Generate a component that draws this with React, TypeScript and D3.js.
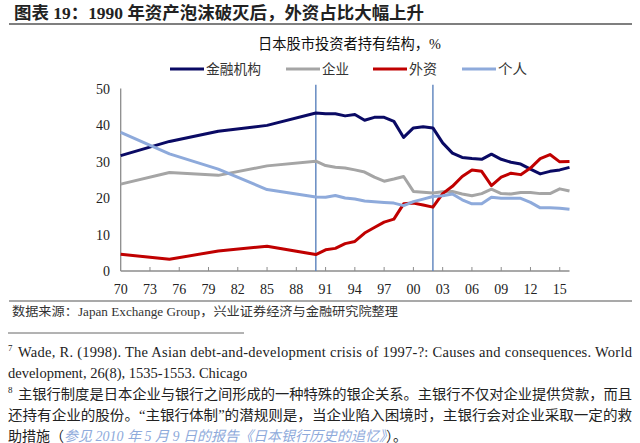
import React from "react";
import * as d3 from "d3";

const years = [1970, 1975, 1980, 1985, 1990, 1991, 1992, 1993, 1994, 1995, 1996, 1997, 1998, 1999, 2000, 2001, 2002, 2003, 2004, 2005, 2006, 2007, 2008, 2009, 2010, 2011, 2012, 2013, 2014, 2015, 2016];
const financial = [31.6, 35.5, 38.3, 39.9, 43.3, 43.1, 43.1, 42.5, 42.9, 41.3, 42.1, 42.1, 41.0, 36.6, 39.2, 39.5, 39.2, 35.1, 32.3, 31.1, 30.8, 30.6, 32.0, 30.6, 29.8, 29.3, 27.9, 26.6, 27.3, 27.7, 28.4];
const corporate = [23.8, 27.0, 26.2, 28.8, 30.1, 28.9, 28.4, 28.2, 27.7, 27.1, 25.7, 24.6, 25.2, 25.9, 21.8, 21.6, 21.4, 21.7, 21.8, 21.1, 20.6, 21.2, 22.4, 21.2, 21.1, 21.5, 21.5, 21.2, 21.2, 22.5, 21.9];
const foreign = [4.6, 3.2, 5.5, 6.8, 4.5, 5.8, 6.2, 7.5, 8.1, 10.4, 11.9, 13.4, 14.2, 18.4, 18.6, 18.1, 17.5, 21.2, 23.2, 25.9, 27.7, 27.3, 23.4, 25.7, 26.8, 26.4, 28.2, 30.8, 31.9, 29.9, 30.0];
const individual = [38.0, 32.1, 27.9, 22.3, 20.3, 20.2, 20.7, 20.0, 19.7, 19.2, 19.0, 18.8, 18.6, 17.9, 19.0, 19.7, 20.4, 20.6, 21.1, 19.5, 18.4, 18.4, 20.2, 19.9, 19.9, 19.9, 18.8, 17.3, 17.3, 17.2, 16.9];

const seriesNames = ["金融机构", "企业", "外资", "个人"];
const seriesColors = ["#0a0a64", "#a5a5a5", "#c00000", "#8eaadb"];
const seriesValues = [financial, corporate, foreign, individual];

const xTickYears = [1970, 1973, 1976, 1979, 1982, 1985, 1988, 1991, 1994, 1997, 2000, 2003, 2006, 2009, 2012, 2015];
const xTickLabels = ["70", "73", "76", "79", "82", "85", "88", "91", "94", "97", "00", "03", "06", "09", "12", "15"];
const yTicks = [0, 10, 20, 30, 40, 50];
const markerYears = [1990, 2002];

const title = "图表 19：1990 年资产泡沫破灭后，外资占比大幅上升";
const subtitle = "日本股市投资者持有结构，%";
const source = "数据来源：Japan Exchange Group，兴业证券经济与金融研究院整理";

const FONT = "'Liberation Serif', 'Noto Sans CJK SC', serif";

export default function App() {
  const x = d3.scaleLinear().domain([1970, 2016]).range([120.7, 569.5]);
  const y = d3.scaleLinear().domain([0, 50]).range([271, 88.5]);
  const line = d3
    .line<number>()
    .x((_, i) => x(years[i]))
    .y((d) => y(d));

  const legendX = [170, 286, 373, 462];
  const legendTextLen = [55, 27, 28, 29];

  return (
    <svg
      width={640}
      height={443}
      style={{ position: "absolute", left: 0, top: 0, background: "#fff" }}
      fontFamily={FONT}
    >
      <rect x={0} y={0} width={640} height={443} fill="#fff" />
      {/* title */}
      <text x={14} y={19} fontSize={17} fontWeight="bold" fill="#222" textLength={410} lengthAdjust="spacingAndGlyphs">
        {title}
      </text>
      <line x1={9} x2={632} y1={24} y2={24} stroke="#555" strokeWidth={1.3} />

      {/* subtitle */}
      <text x={258} y={49} fontSize={15} fill="#111" textLength={183} lengthAdjust="spacingAndGlyphs">
        {subtitle}
      </text>

      {/* legend */}
      {seriesNames.map((n, i) => (
        <g key={n}>
          <line x1={legendX[i]} x2={legendX[i] + 34} y1={69} y2={69} stroke={seriesColors[i]} strokeWidth={3} />
          <text x={legendX[i] + 36} y={74} fontSize={14} fill="#333" textLength={legendTextLen[i]} lengthAdjust="spacingAndGlyphs">
            {n}
          </text>
        </g>
      ))}

      {/* axes */}
      <line x1={x(1970)} x2={x(1970)} y1={y(50)} y2={y(0)} stroke="#8c8c8c" strokeWidth={1.3} />
      <line x1={x(1970)} x2={x(2016)} y1={y(0)} y2={y(0)} stroke="#8c8c8c" strokeWidth={1.5} />
      {xTickYears.slice(1).map((t) => (
        <line key={t} x1={x(t)} x2={x(t)} y1={y(0)} y2={y(0) - 4} stroke="#8c8c8c" strokeWidth={1} />
      ))}
      {xTickYears.map((t, i) => (
        <text key={t} x={x(t)} y={294} fontSize={14} textAnchor="middle" fill="#222">
          {xTickLabels[i]}
        </text>
      ))}
      {yTicks.map((t) => (
        <text key={t} x={110} y={y(t) + 5} fontSize={14} textAnchor="end" fill="#222">
          {t}
        </text>
      ))}

      {/* marker lines */}
      {markerYears.map((m) => (
        <line key={m} x1={x(m)} x2={x(m)} y1={y(51)} y2={y(0)} stroke="#5b82bd" strokeWidth={1.4} />
      ))}

      {/* series */}
      {seriesValues.map((vals, i) => (
        <path
          key={seriesNames[i]}
          d={line(vals) || ""}
          fill="none"
          stroke={seriesColors[i]}
          strokeWidth={3}
          strokeLinejoin="round"
        />
      ))}

      {/* source */}
      <line x1={9} x2={632} y1={301} y2={301} stroke="#555" strokeWidth={1.2} />
      <text x={12} y={316} fontSize={12.5} fill="#333" textLength={386} lengthAdjust="spacingAndGlyphs">
        {source}
      </text>

      {/* footnotes */}
      <line x1={8} x2={244} y1={333} y2={333} stroke="#666" strokeWidth={1} />
      <text x={8} y={351} fontSize={9} fill="#222">7</text>
      <text x={18} y={357} fontSize={14.5} fill="#222" textLength={614} lengthAdjust="spacing">
        Wade, R. (1998). The Asian debt-and-development crisis of 1997-?: Causes and consequences. World
      </text>
      <text x={8} y={378} fontSize={14.5} fill="#222">
        development, 26(8), 1535-1553. Chicago
      </text>
      <text x={8} y={393} fontSize={9} fill="#222">8</text>
      <text x={18} y={399} fontSize={14} fill="#222" textLength={614} lengthAdjust="spacingAndGlyphs">
        主银行制度是日本企业与银行之间形成的一种特殊的银企关系。主银行不仅对企业提供贷款，而且
      </text>
      <text x={8} y={420} fontSize={14} fill="#222" textLength={624} lengthAdjust="spacingAndGlyphs">
        还持有企业的股份。“主银行体制”的潜规则是，当企业陷入困境时，主银行会对企业采取一定的救
      </text>
      <text x={8} y={441} fontSize={14} fill="#222">
        助措施（
        <tspan fill="#8eaadb" fontStyle="italic">参见 2010 年 5 月 9 日的报告《日本银行历史的追忆》</tspan>
        ）。
      </text>
    </svg>
  );
}
